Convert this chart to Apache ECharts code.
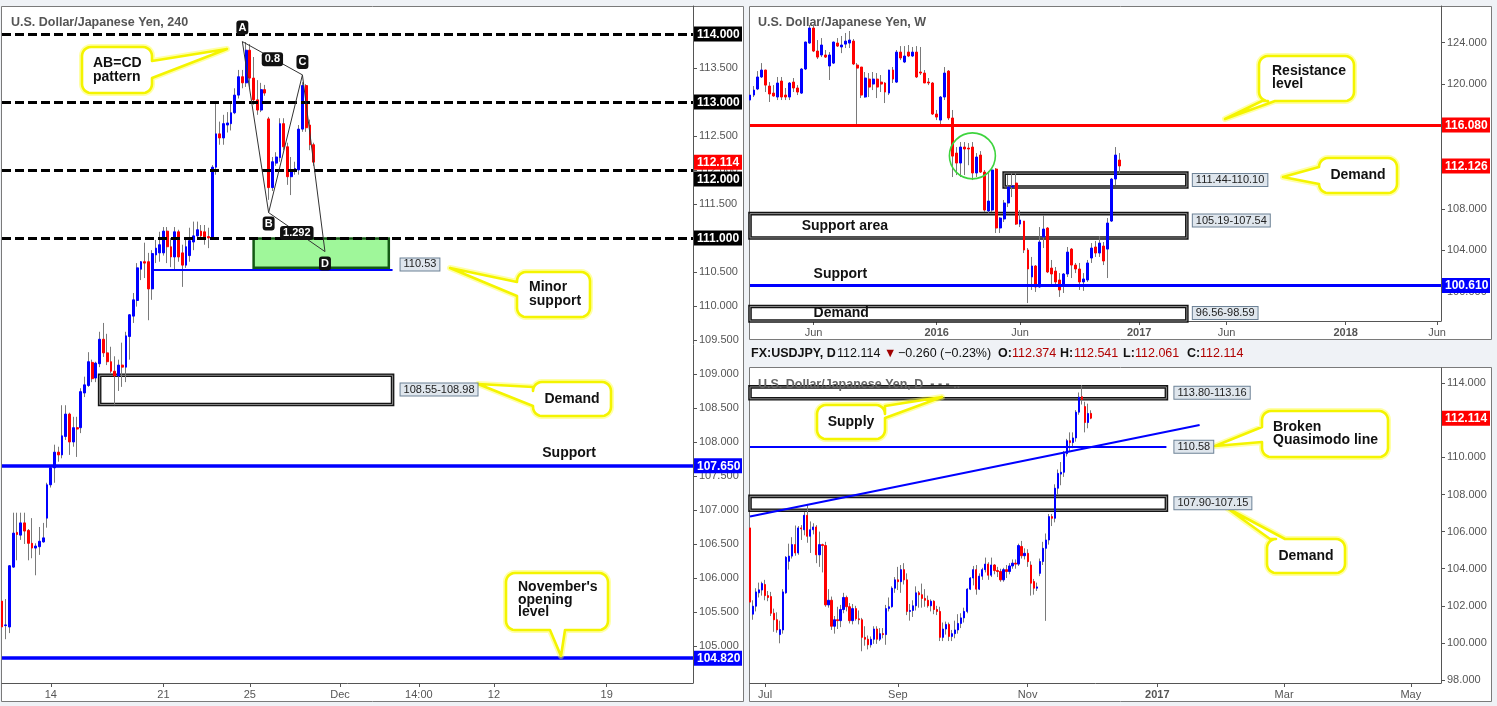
<!DOCTYPE html>
<html><head><meta charset="utf-8">
<script src="https://cdn.jsdelivr.net/npm/echarts@6.0.0/dist/echarts.min.js"></script>
<style>html,body{margin:0;padding:0;background:#eff2f6;}#c{width:1497px;height:706px;}</style>
</head><body><div id="c"></div>
<script>
// ================= DATA =================
// ---- 4H panel: [open, close, low, high]
const h4Ohlc = [
[105.66,105.28,105.24,105.94],[105.30,105.31,105.10,105.69],[105.28,106.18,105.19,106.19],[106.16,106.66,106.15,106.96],
[106.67,106.64,106.26,106.96],[106.63,106.81,106.56,106.96],[106.81,106.69,106.50,106.96],[106.70,106.51,106.26,106.72],
[106.51,106.44,106.29,106.88],[106.44,106.47,106.04,106.51],[106.46,106.54,106.34,106.75],[106.53,106.59,106.52,106.81],
[106.88,107.37,106.74,107.40],[107.37,107.62,107.33,107.66],[107.62,107.85,107.40,107.96],[107.85,107.81,107.71,107.93],
[107.81,108.09,107.76,108.54],[108.08,108.41,108.03,108.54],[108.41,108.00,107.81,108.43],[108.00,108.21,107.93,108.37],
[108.21,108.19,107.78,108.37],[108.21,108.74,108.13,108.79],[108.72,108.84,108.66,108.96],[108.83,109.18,108.81,109.32],
[109.17,108.93,108.88,109.21],[108.94,109.16,108.88,109.18],[109.15,109.51,109.10,109.62],[109.51,109.31,109.25,109.75],
[109.31,109.18,109.13,109.59],[109.18,109.04,109.01,109.40],[109.04,108.97,108.54,109.26],[108.97,109.13,108.75,109.21],
[109.13,109.10,108.81,109.46],[109.10,109.56,108.88,109.62],[109.55,109.87,109.21,109.88],[109.85,110.09,109.75,110.19],
[110.08,110.56,109.99,110.63],[110.54,110.65,110.38,110.66],[110.65,110.63,110.41,110.93],[110.65,110.25,109.79,110.78],
[110.25,110.77,110.09,110.82],[110.75,110.85,110.63,110.97],[110.78,110.90,110.65,111.09],[110.78,111.10,110.74,111.16],
[111.10,110.87,110.63,111.16],[110.87,110.72,110.57,111.00],[110.72,111.09,110.53,111.16],[111.09,110.72,110.65,111.12],
[110.78,110.60,110.28,110.90],[110.60,110.87,110.56,110.97],[110.74,110.96,110.65,111.15],[110.94,111.03,110.82,111.24],
[111.03,111.12,110.97,111.24],[111.10,111.03,110.97,111.19],[111.09,111.01,110.90,111.19],[111.02,111.00,110.85,111.15],
[111.00,112.04,110.97,112.07],[112.04,112.53,111.93,112.99],[112.53,112.47,112.37,112.71],[112.47,112.68,112.37,112.81],
[112.66,112.69,112.55,112.85],[112.68,112.84,112.58,112.99],[112.84,113.10,112.82,113.20],[113.10,113.37,113.05,113.47],
[113.37,113.28,113.20,113.47],[113.28,113.76,113.22,113.88],[113.76,113.35,113.22,113.85],[113.35,113.03,112.96,113.66],
[113.03,112.88,112.81,113.32],[112.88,113.18,112.85,113.28],[113.18,113.13,113.09,113.25],[112.75,111.74,111.56,112.78],
[111.74,112.12,111.69,112.19],[112.10,112.19,112.06,112.26],[112.18,112.68,112.12,112.76],[112.68,112.34,112.29,112.76],
[112.34,111.90,111.78,112.40],[111.90,112.00,111.63,112.19],[112.00,112.02,111.93,112.12],[112.00,112.60,111.93,112.66],
[112.60,113.24,112.56,113.29],[113.24,112.62,112.56,113.26],[112.66,112.37,112.29,112.74],[112.37,112.114,112.06,112.40]
];
const h4SlotCount = 185;
const h4TickIdx = [13, 43, 66, 90, 111, 131, 161];
const h4TickText = ['14', '21', '25', 'Dec', '14:00', '12', '19'];
const h4PriceTicks = [105,105.5,106,106.5,107,107.5,108,108.5,109,109.5,110,110.5,111,111.5,112,112.5,113,113.5,114];
const h4RoundLevels = [114, 113, 112, 111];
const h4SupportLevel = 107.65;
const h4NovOpenLevel = 104.82;
const h4MinorSupport = 110.53;
const h4GreenZone = [110.56, 110.99];
const h4DemandZone = [108.55, 108.98];
const h4AbcdIdx = [64, 71, 80, 86];
const h4AbcdVal = [113.887, 111.372, 113.397, 110.799];
const h4AbcdName = ['A', 'B', 'C', 'D'];
const h4Ratios = ['0.8', '1.292'];
const h4Last = 112.114;

// ---- Weekly panel: [open, close, low, high]
const wkOhlc = [
[118.48,118.96,118.29,119.44],[118.96,119.44,118.77,119.83],[119.54,120.70,119.44,121.27],[120.70,121.37,120.60,122.04],
[121.37,119.92,119.25,121.40],[119.83,119.06,118.29,120.21],[119.15,118.87,118.80,119.92],[118.77,120.12,118.48,120.70],
[120.31,118.77,118.48,120.70],[118.96,118.77,118.48,119.64],[118.77,120.12,118.48,120.21],[120.21,119.64,119.25,120.60],
[119.64,119.25,118.96,119.92],[119.15,121.47,119.06,121.56],[121.47,124.07,121.37,124.10],[123.97,125.42,123.90,125.71],
[125.42,123.20,123.10,125.71],[123.20,122.62,122.43,124.26],[122.82,123.78,122.62,124.45],[122.82,122.62,122.53,123.30],
[121.76,122.82,120.41,123.10],[122.04,124.07,121.95,124.10],[123.97,123.68,123.59,124.45],[123.59,123.78,123.00,124.65],
[123.87,124.16,123.49,124.94],[123.97,124.26,123.49,125.13],[124.16,121.95,121.85,124.36],[121.85,121.56,116.07,122.04],
[121.66,118.96,118.67,121.66],[118.77,120.60,118.70,121.18],[120.50,119.73,118.77,121.08],[120.02,120.50,119.44,121.18],
[120.50,119.73,118.67,121.08],[120.21,120.02,119.25,120.89],[120.12,119.25,118.19,120.21],[119.15,121.37,118.96,121.40],
[121.37,120.50,120.12,121.66],[120.21,123.10,120.12,123.30],[123.10,122.53,122.33,123.68],[122.14,122.72,122.04,123.68],
[123.10,122.72,122.62,123.78],[122.72,123.10,122.62,123.59],[123.10,120.70,120.60,123.68],[121.18,121.08,120.89,123.59],
[121.08,120.12,120.12,121.37],[120.21,120.12,119.92,120.60],[120.12,117.13,117.04,120.21],[117.13,116.84,116.55,117.52],
[116.55,118.77,115.98,118.87],[118.77,121.08,118.48,121.66],[121.27,116.75,116.55,121.37],[116.75,113.08,111.06,117.52],
[113.37,112.41,111.25,113.95],[112.41,113.95,111.06,114.43],[113.95,113.76,111.25,114.43],[113.85,113.76,112.20,114.33],
[113.95,111.45,110.77,114.43],[111.45,112.99,111.06,113.37],[113.18,111.54,111.45,113.56],[111.54,107.88,107.69,111.74],
[107.79,108.75,107.59,111.64],[107.88,111.74,107.69,111.83],[111.83,106.15,105.67,111.93],[106.15,107.11,105.67,107.21],
[107.02,108.56,106.73,108.85],[108.56,110.10,108.17,111.25],[110.10,110.19,109.13,111.45],[110.48,106.53,106.44,111.45],
[106.53,106.92,106.24,107.88],[106.82,104.03,103.74,106.82],[104.03,102.20,98.92,104.22],[101.43,102.49,100.18,103.36],
[102.49,100.47,99.99,102.58],[100.47,104.80,100.40,106.24],[105.29,106.05,104.22,107.40],[106.15,101.91,101.81,106.24],
[102.29,101.72,100.76,103.07],[102.00,100.95,100.66,102.39],[101.14,100.18,99.51,101.81],[100.66,101.72,99.89,101.81],
[101.72,103.83,101.43,104.32],[104.12,102.58,101.33,104.22],[102.58,102.20,101.81,102.78],[102.20,100.95,100.18,102.78],
[100.95,101.24,100.09,101.81],[101.14,102.78,100.95,103.07],[103.26,104.22,102.78,104.70],[104.32,103.74,103.36,104.90],
[103.74,104.70,103.36,105.38],[104.41,102.97,102.58,104.80],[104.12,106.63,101.33,107.11],[106.82,110.87,106.73,110.97],
[110.87,113.18,110.29,113.95],[112.70,112.126,111.45,113.37]
];
const wkSlotCount = 175;
const wkTickIdx = [16, 47, 68, 98, 120, 150, 173];
const wkTickText = ['Jun', '2016', 'Jun', '2017', 'Jun', '2018', 'Jun'];
const wkPriceTicks = [100, 104, 108, 112, 116, 120, 124];
const wkResistance = 116.08;
const wkSupport = 100.61;
const wkDemandZone = [110.10, 111.44];
const wkSupportArea = [105.19, 107.54];
const wkLowerDemand = [96.56, 98.59];
const wkCircle = [56, 113.1];
const wkLast = 112.126;

// ---- Daily panel: [open, close, low, high]
const dOhlc = [
[106.20,102.20,99.02,106.84],[101.55,101.98,101.25,102.30],[101.98,102.75,101.70,102.95],[102.70,102.86,102.45,103.25],
[102.85,103.20,102.55,103.30],[103.15,102.55,102.30,103.40],[102.55,102.45,102.25,102.80],[102.50,101.60,101.45,102.75],
[101.60,101.25,100.60,101.85],[101.25,100.70,100.55,101.65],[100.45,100.72,99.98,101.20],[100.70,102.75,100.50,102.90],
[102.70,104.62,102.65,104.68],[104.40,104.68,103.95,105.35],[104.68,105.30,104.55,105.70],[105.30,104.85,104.70,106.33],
[104.85,106.20,104.75,106.30],[106.20,106.15,105.55,106.35],[106.10,106.88,105.80,107.05],[106.88,105.75,105.40,107.49],
[105.75,106.10,104.85,106.55],[106.10,106.25,105.85,106.45],[106.25,104.75,104.30,106.35],[104.75,105.30,104.10,106.00],
[105.30,105.25,103.80,105.35],[105.25,102.05,101.95,105.45],[102.05,102.30,101.90,102.90],[102.30,100.90,100.70,102.50],
[100.90,101.25,100.50,101.45],[101.25,101.20,100.75,101.95],[101.20,101.80,100.85,102.05],[101.80,102.45,101.60,102.70],
[102.45,101.95,101.70,102.55],[101.95,101.20,101.05,102.15],[101.20,101.85,101.00,102.10],[101.85,101.30,101.20,102.00],
[101.30,101.25,101.00,101.75],[101.25,100.30,99.55,101.35],[100.30,100.20,99.85,100.90],[100.20,99.90,99.65,100.40],
[99.90,100.20,99.75,100.35],[100.20,100.75,99.95,100.90],[100.75,100.20,99.95,100.90],[100.20,100.50,100.10,100.80],
[100.50,100.45,100.25,100.80],[100.45,101.85,99.90,102.05],[101.85,101.95,101.70,102.45],[101.95,102.95,101.90,103.05],
[102.95,103.40,102.70,103.55],[103.40,103.30,102.85,104.10],[103.30,103.95,102.70,104.20],[103.95,103.40,103.15,104.30],
[103.40,101.70,101.50,103.75],[101.70,101.75,101.20,102.10],[101.75,102.00,101.40,102.30],[102.00,102.70,101.75,103.05],
[102.70,102.60,101.90,102.80],[102.60,102.40,101.90,103.20],[102.40,102.30,101.95,102.90],[102.30,102.00,101.90,102.55],
[102.00,102.25,101.70,102.35],[102.25,101.80,101.55,102.30],[101.80,101.70,101.50,102.00],[101.70,100.30,100.10,101.95],
[100.30,100.75,100.10,101.10],[100.75,101.00,100.45,101.15],[101.00,100.35,100.10,101.10],[100.35,100.50,100.10,100.70],
[100.50,100.70,100.25,101.20],[100.70,101.05,100.50,101.55],[101.05,101.35,100.80,101.60],[101.35,101.70,101.10,101.90],
[101.70,102.90,101.60,102.95],[102.90,103.50,102.85,103.55],[103.50,103.95,103.10,104.15],[103.95,102.90,102.60,104.20],
[102.90,103.60,102.85,103.75],[103.60,103.95,103.40,104.05],[103.95,104.25,103.80,104.60],[104.25,103.65,103.40,104.35],
[103.65,104.20,103.55,104.60],[104.20,103.90,103.70,104.25],[103.90,103.85,103.55,104.10],[103.85,103.40,103.30,104.00],
[103.40,103.95,103.30,104.05],[103.95,103.85,103.50,104.20],[103.85,104.15,103.70,104.30],[104.15,104.30,104.00,104.50],
[104.30,104.25,104.00,104.50],[104.25,105.25,104.15,105.35],[105.20,104.70,104.55,105.50],[104.70,104.83,104.50,105.10],
[104.83,104.38,104.10,105.05],[104.20,103.22,102.55,104.40],[103.31,102.95,102.60,103.45],[102.95,103.02,102.80,103.25],
[103.75,104.39,103.60,104.55],[104.39,105.10,104.20,105.45],[105.10,105.55,101.19,105.90],[105.55,106.81,105.30,106.95],
[106.81,106.72,106.30,106.95],[106.72,108.34,106.50,108.55],[108.34,109.14,108.00,109.35],[109.10,109.20,108.50,109.75],
[109.20,110.20,108.95,110.35],[110.20,110.90,110.05,111.00],[110.90,110.80,110.30,111.35],[110.80,111.05,110.50,111.35],
[111.05,112.44,110.85,112.55],[112.44,113.25,112.30,113.50],[113.27,113.12,112.85,113.90],[112.74,111.88,111.35,113.00],
[111.88,112.37,111.57,112.90],[112.374,112.114,112.061,112.541]
];
const dSlotCount = 230;
const dTickIdx = [5, 49, 92, 135, 177, 219];
const dTickText = ['Jul', 'Sep', 'Nov', '2017', 'Mar', 'May'];
const dPriceTicks = [98, 100, 102, 104, 106, 108, 110, 112, 114];
const dSupplyZone = [113.16, 113.80];
const dDemandZone = [107.15, 107.90];
const dQuasimodo = 110.58;
const dTrendIdx = [0, 149];
const dTrendVal = [106.81, 111.75];
const dLast = 112.114;
const dHeaderVals = { price: '112.114', change: '\u22120.260 (\u22120.23%)', O: '112.374', H: '112.541', L: '112.061', C: '112.114' };

// ================= LAYOUT (pixels / extents, not data) =================
const FONT = '"Liberation Sans", Arial, sans-serif';
const EXT = { h4Green: [67, 103], h4Demand: [26, 104], h4Minor: [40, 104], wkDemand: [64, 110], wkZone: [0, 110], dZone: [0, 138] };
const GRIDS = [
  { left: 2, top: 6, width: 691, height: 677, ymin: 104.456, ymax: 114.41 },
  { left: 750, top: 6, width: 691, height: 315, ymin: 97.19, ymax: 127.54 },
  { left: 750, top: 368, width: 691, height: 315, ymin: 97.84, ymax: 114.82 }
];

const chart = echarts.init(document.getElementById('c'), null, { renderer: 'canvas' });

function cats(n) { return Array.from({ length: n }, (_, i) => 's' + i); }
function bodies(rows) { return rows.map(r => [r[0], r[1], Math.min(r[0], r[1]), Math.max(r[0], r[1])]); }

function xAxisDef(g, n, idx, txt, boldSet) {
  const m = new Map(idx.map((k, i) => [k, txt[i]]));
  const show = (i) => m.has(i);
  return {
    gridIndex: g, type: 'category', data: cats(n), boundaryGap: false,
    axisLine: { show: true, lineStyle: { color: '#555', width: 1 } },
    axisTick: { show: true, interval: show, length: 4, lineStyle: { color: '#555' } },
    axisLabel: {
      interval: show, margin: 6, color: '#555', fontSize: 11, fontFamily: FONT,
      formatter: (v, i) => { const t = m.get(i) || ''; return boldSet.has(t) ? '{b|' + t + '}' : t; },
      rich: { b: { fontWeight: 'bold', color: '#555', fontSize: 11, fontFamily: FONT } }
    },
    splitLine: { show: false }
  };
}
function yAxisDef(g, ticks) {
  const G = GRIDS[g];
  return {
    gridIndex: g, type: 'value', position: 'right', min: G.ymin, max: G.ymax, scale: true,
    axisLine: { show: true, lineStyle: { color: '#555' } },
    axisTick: { show: true, customValues: ticks, length: 4, lineStyle: { color: '#555' } },
    axisLabel: { customValues: ticks, formatter: v => v.toFixed(3), color: '#555', fontSize: 11, fontFamily: FONT, margin: 6 },
    splitLine: { show: false }
  };
}

const wickStyle = { color: '#7a7a7a', color0: '#7a7a7a', borderColor: '#7a7a7a', borderColor0: '#7a7a7a', borderWidth: 1 };
const bodyStyle = { color: '#0000ff', color0: '#ff0000', borderColor: '#0000ff', borderColor0: '#ff0000', borderWidth: 1 };
const ML = (data) => ({ silent: true, symbol: ['none', 'none'], label: { show: false }, emphasis: { disabled: true }, animation: false, data });
const hLine = (v, color, width, type) => ({ yAxis: v, lineStyle: { color, width, type: type || 'solid' } });
const seg = (x1, y1, x2, y2, color, width) => [{ coord: [x1, y1], lineStyle: { color, width, type: 'solid' } }, { coord: [x2, y2] }];
const zoneBox = (x1, x2, z, style) => [{ xAxis: x1, yAxis: z[0], itemStyle: style }, { xAxis: x2, yAxis: z[1] }];
const blackBox = { color: 'rgba(255,255,255,0)', borderColor: '#141414', borderWidth: 3.6 };
const greyLine = { color: 'rgba(255,255,255,0)', borderColor: '#8a8a8a', borderWidth: 1 };
const framed = (x1, x2, z) => [zoneBox(x1, x2, z, blackBox), zoneBox(x1, x2, z, greyLine)];

const A = h4AbcdIdx, V = h4AbcdVal;
const series = [
  { type: 'candlestick', xAxisIndex: 0, yAxisIndex: 0, data: h4Ohlc, barWidth: 1, itemStyle: wickStyle, silent: true, z: 2 },
  { type: 'candlestick', xAxisIndex: 0, yAxisIndex: 0, data: bodies(h4Ohlc), barWidth: 2.3, itemStyle: bodyStyle, silent: true, z: 3,
    markLine: ML([
      ...h4RoundLevels.map(v => hLine(v, '#000', 3, [9, 4])),
      hLine(h4SupportLevel, '#0000ff', 3.5), hLine(h4NovOpenLevel, '#0000ff', 3.5),
      seg(EXT.h4Minor[0], h4MinorSupport, EXT.h4Minor[1], h4MinorSupport, '#0000ff', 2),
      seg(A[0], V[0], A[1], V[1], '#333', 1), seg(A[1], V[1], A[2], V[2], '#333', 1), seg(A[2], V[2], A[3], V[3], '#333', 1),
      seg(A[0], V[0], A[2], V[2], '#333', 1), seg(A[1], V[1], A[3], V[3], '#333', 1)
    ]),
    markArea: { silent: true, label: { show: false }, data: [
      zoneBox(EXT.h4Green[0], EXT.h4Green[1], h4GreenZone, { color: '#9ff79a', borderColor: '#145a14', borderWidth: 2.5 }),
      ...framed(EXT.h4Demand[0], EXT.h4Demand[1], h4DemandZone)
    ] }
  },
  { type: 'candlestick', xAxisIndex: 1, yAxisIndex: 1, data: wkOhlc, barWidth: 1, itemStyle: wickStyle, silent: true, z: 2 },
  { type: 'candlestick', xAxisIndex: 1, yAxisIndex: 1, data: bodies(wkOhlc), barWidth: 2.4, itemStyle: bodyStyle, silent: true, z: 3,
    markLine: ML([hLine(wkResistance, '#ff0000', 3), hLine(wkSupport, '#0000ff', 3)]),
    markArea: { silent: true, label: { show: false }, data: [
      ...framed(EXT.wkDemand[0], EXT.wkDemand[1], wkDemandZone),
      ...framed(EXT.wkZone[0], EXT.wkZone[1], wkSupportArea),
      ...framed(EXT.wkZone[0], EXT.wkZone[1], [Math.max(wkLowerDemand[0], GRIDS[1].ymin), wkLowerDemand[1]])
    ] },
    markPoint: { silent: true, symbol: 'circle', symbolSize: 46, label: { show: false },
      itemStyle: { color: 'rgba(0,0,0,0)', borderColor: '#3ed43e', borderWidth: 1.6 },
      data: [{ coord: wkCircle }] }
  },
  { type: 'candlestick', xAxisIndex: 2, yAxisIndex: 2, data: dOhlc, barWidth: 1, itemStyle: wickStyle, silent: true, z: 2 },
  { type: 'candlestick', xAxisIndex: 2, yAxisIndex: 2, data: bodies(dOhlc), barWidth: 1.7, itemStyle: bodyStyle, silent: true, z: 3,
    markLine: ML([
      seg(EXT.dZone[0], dQuasimodo, EXT.dZone[1], dQuasimodo, '#0000ff', 2),
      seg(dTrendIdx[0], dTrendVal[0], dTrendIdx[1], dTrendVal[1], '#0000ff', 2)
    ]),
    markArea: { silent: true, label: { show: false }, data: [
      ...framed(EXT.dZone[0], EXT.dZone[1], dSupplyZone),
      ...framed(EXT.dZone[0], EXT.dZone[1], dDemandZone)
    ] }
  }
];

const option = {
  animation: false,
  backgroundColor: '#eff2f6',
  grid: GRIDS.map(g => ({ left: g.left, top: g.top, width: g.width, height: g.height, show: false, containLabel: false })),
  xAxis: [
    xAxisDef(0, h4SlotCount, h4TickIdx, h4TickText, new Set()),
    xAxisDef(1, wkSlotCount, wkTickIdx, wkTickText, new Set(['2016', '2017', '2018'])),
    xAxisDef(2, dSlotCount, dTickIdx, dTickText, new Set(['2017']))
  ],
  yAxis: [yAxisDef(0, h4PriceTicks), yAxisDef(1, wkPriceTicks), yAxisDef(2, dPriceTicks)],
  series
};
chart.setOption(option);

// ================= overlays (positions from the library's scales) =================
const P = (g, x, y) => chart.convertToPixel({ gridIndex: g }, [x, y]);
function T(x, y, text, o) {
  o = o || {};
  const st = { text, fill: o.fill || '#111', font: o.font || ('bold 14px ' + FONT),
    align: o.align || 'left', textAlign: o.align || 'left', verticalAlign: o.va || 'middle', textVerticalAlign: o.va || 'middle' };
  if (o.lh) st.lineHeight = o.lh;
  if (o.bg) { st.backgroundColor = o.bg; st.padding = o.pad || [2, 3, 1, 3]; }
  if (o.border) { st.borderColor = o.border; st.borderWidth = 1; }
  if (o.radius) st.borderRadius = o.radius;
  if (o.opacity != null) st.opacity = o.opacity;
  return { type: 'text', x, y, z: o.z != null ? o.z : 100, silent: true, style: st };
}
function arcPts(cx, cy, r, a0, a1) { const out = []; for (let i = 0; i <= 6; i++) { const a = a0 + (a1 - a0) * i / 6; out.push([cx + r * Math.cos(a), cy + r * Math.sin(a)]); } return out; }
function bubble(b) {
  const { x, y, w, h, side, a, bb, tip } = b, r = 9, pts = [], PI = Math.PI;
  pts.push(...arcPts(x + r, y + r, r, PI, 1.5 * PI));
  if (side === 'top') pts.push([x + a, y], tip, [x + bb, y]);
  pts.push(...arcPts(x + w - r, y + r, r, 1.5 * PI, 2 * PI));
  if (side === 'right') pts.push([x + w, y + a], tip, [x + w, y + bb]);
  pts.push(...arcPts(x + w - r, y + h - r, r, 0, 0.5 * PI));
  if (side === 'bottom') pts.push([x + bb, y + h], tip, [x + a, y + h]);
  pts.push(...arcPts(x + r, y + h - r, r, 0.5 * PI, PI));
  if (side === 'left') pts.push([x, y + bb], tip, [x, y + a]);
  return [
    { type: 'polygon', z: 95, silent: true, shape: { points: pts }, style: { fill: '#fff', stroke: 'rgba(255,255,60,0.45)', lineWidth: 6, lineJoin: 'round' } },
    { type: 'polygon', z: 96, silent: true, shape: { points: pts }, style: { fill: '#fff', stroke: '#f4f400', lineWidth: 2.6, lineJoin: 'round' } }
  ];
}
const CALLOUTS = [
  { x: 82, y: 47, w: 70, h: 46, side: 'right', a: 14, bb: 31, tip: [227, 49], text: 'AB=CD\npattern', tx: 93, ty: 56, va: 'top' },
  { x: 517, y: 272, w: 73, h: 45, side: 'left', a: 10, bb: 24, tip: [450, 268], text: 'Minor\nsupport', tx: 529, ty: 280, va: 'top' },
  { x: 533, y: 382, w: 78, h: 34, side: 'left', a: 5, bb: 24, tip: [478, 384], text: 'Demand', tx: 572, ty: 399, center: true },
  { x: 506, y: 573, w: 102, h: 57, side: 'bottom', a: 44, bb: 59, tip: [561, 656], text: "November's\nopening\nlevel", tx: 518, ty: 581, va: 'top', lh: 12.5 },
  { x: 1259, y: 56, w: 95, h: 45, side: 'bottom', a: 3, bb: 16, tip: [1225, 119], text: 'Resistance\nlevel', tx: 1272, ty: 65, va: 'top', lh: 12.5 },
  { x: 1319, y: 158, w: 78, h: 35, side: 'left', a: 9, bb: 26, tip: [1283, 177], text: 'Demand', tx: 1358, ty: 175.5, center: true },
  { x: 817, y: 405, w: 68, h: 34, side: 'right', a: 1, bb: 13, tip: [942, 397], text: 'Supply', tx: 851, ty: 422, center: true },
  { x: 1262, y: 411, w: 126, h: 46, side: 'left', a: 16, bb: 31, tip: [1215, 446], text: 'Broken\nQuasimodo line', tx: 1273, ty: 421, va: 'top', lh: 12.5 },
  { x: 1267, y: 539, w: 78, h: 34, side: 'top', a: 3, bb: 18, tip: [1227, 508], text: 'Demand', tx: 1306, ty: 556, center: true }
];
const PANELS = [
  { x: 1.5, y: 6.5, width: 742, height: 695 },
  { x: 749.5, y: 6.5, width: 742, height: 333 },
  { x: 749.5, y: 367.5, width: 742, height: 334 }
];
// right-axis price tags: [grid, value, text, color, nudgeY]
const TAGS = [
  [0, h4RoundLevels[0], '114.000', '#000', 0], [0, h4RoundLevels[1], '113.000', '#000', 0],
  [0, h4RoundLevels[3], '111.000', '#000', 0], [0, h4RoundLevels[2], '112.000', '#000', 9],
  [0, h4Last, '112.114', '#ff0000', 0], [0, h4SupportLevel, '107.650', '#0000ff', 0], [0, h4NovOpenLevel, '104.820', '#0000ff', 0],
  [1, wkResistance, '116.080', '#ff0000', 0], [1, wkLast, '112.126', '#ff0000', 0], [1, wkSupport, '100.610', '#0000ff', 0],
  [2, dLast, '112.114', '#ff0000', 0]
];
// value boxes: [grid, xIndex (anchor), value for vertical centre, text, dx]
const VALBOX = [
  [0, EXT.h4Minor[1], 110.61, '110.53', 8], [0, EXT.h4Demand[1], 108.77, '108.55-108.98', 8],
  [1, EXT.wkDemand[1], 110.77, '111.44-110.10', 6], [1, EXT.wkZone[1], 106.87, '105.19-107.54', 6], [1, EXT.wkZone[1], 97.96, '96.56-98.59', 6],
  [2, EXT.dZone[1], 113.49, '113.80-113.16', 8], [2, EXT.dZone[1], 110.58, '110.58', 8], [2, EXT.dZone[1], 107.53, '107.90-107.15', 8]
];
// in-chart labels: [grid, xIndex, value, text, align]
const LABELS = [
  [1, 13, 106.34, 'Support area', 'left'], [1, 16, 101.72, 'Support', 'left'], [1, 16, 97.96, 'Demand', 'left'],
  [0, 151, 107.84, 'Support', 'center']
];

function overlays() {
  const els = [];
  PANELS.forEach(p => els.push({ type: 'rect', z: -10, silent: true, shape: p, style: { fill: '#fff', stroke: '#7a7a7a', lineWidth: 1 } }));
  els.push(T(11, 23, 'U.S. Dollar/Japanese Yen, 240', { font: 'bold 12.5px ' + FONT, fill: '#555', z: 1 }));
  els.push(T(758, 23, 'U.S. Dollar/Japanese Yen, W', { font: 'bold 12.5px ' + FONT, fill: '#555', z: 1 }));
  els.push(T(758, 385, 'U.S. Dollar/Japanese Yen, D  - - - ..', { font: 'bold 12.5px ' + FONT, fill: '#666', z: 1 }));
  const H = [[751, 'FX:USDJPY, D', '#111', 'bold'], [837, dHeaderVals.price, '#111', ''], [884, '\u25BC', '#a00000', ''],
    [898, dHeaderVals.change, '#111', ''], [998, 'O:', '#111', 'bold'], [1012, dHeaderVals.O, '#b00000', ''],
    [1060, 'H:', '#111', 'bold'], [1074, dHeaderVals.H, '#b00000', ''], [1123, 'L:', '#111', 'bold'],
    [1135, dHeaderVals.L, '#b00000', ''], [1187, 'C:', '#111', 'bold'], [1200, dHeaderVals.C, '#b00000', '']];
  H.forEach(h => els.push(T(h[0], 354, h[1], { font: (h[3] ? 'bold ' : '') + '12.5px ' + FONT, fill: h[2] })));
  TAGS.forEach(t => {
    const g = GRIDS[t[0]]; const y = P(t[0], 0, t[1])[1] + t[4]; const x = g.left + g.width;
    els.push({ type: 'rect', z: 110, silent: true, shape: { x: x + 1, y: y - 7.5, width: 48, height: 15 }, style: { fill: t[3] } });
    els.push(T(x + 4, y + 0.5, t[2], { font: 'bold 12px ' + FONT, fill: '#fff', z: 111 }));
  });
  VALBOX.forEach(v => {
    const p = P(v[0], v[1], v[2]);
    els.push(T(p[0] + v[4], p[1], v[3], { font: '11px ' + FONT, fill: '#222', bg: '#dfe6ed', border: '#6d8296', pad: [1, 3, 0, 3], z: 105 }));
  });
  LABELS.forEach(l => { const p = P(l[0], l[1], l[2]); els.push(T(p[0], p[1], l[3], { font: 'bold 14px ' + FONT, align: l[4], z: 105 })); });
  const dy = [-14, 11, -13, 12];
  h4AbcdIdx.forEach((k, i) => {
    const p = P(0, k, h4AbcdVal[i]);
    els.push(T(p[0], p[1] + dy[i], h4AbcdName[i], { font: 'bold 11px ' + FONT, fill: '#fff', bg: '#111', pad: [2, 2, 1, 2], radius: 3, align: 'center', z: 112 }));
  });
  [[0, 2], [1, 3]].forEach((pr, i) => {
    const p1 = P(0, h4AbcdIdx[pr[0]], h4AbcdVal[pr[0]]), p2 = P(0, h4AbcdIdx[pr[1]], h4AbcdVal[pr[1]]);
    els.push(T((p1[0] + p2[0]) / 2, (p1[1] + p2[1]) / 2 + 1, h4Ratios[i], { font: 'bold 11px ' + FONT, fill: '#fff', bg: '#111', pad: [2, 3, 1, 3], radius: 3, align: 'center', z: 112 }));
  });
  CALLOUTS.forEach(c => {
    els.push(...bubble(c));
    els.push(T(c.tx, c.ty, c.text, { font: 'bold 14px ' + FONT, fill: '#111', align: c.center ? 'center' : 'left', va: c.center ? 'middle' : (c.va || 'top'), lh: c.lh || 14, z: 120 }));
  });
  return els;
}
chart.setOption({ graphic: { elements: overlays() } });
</script>
</body></html>
